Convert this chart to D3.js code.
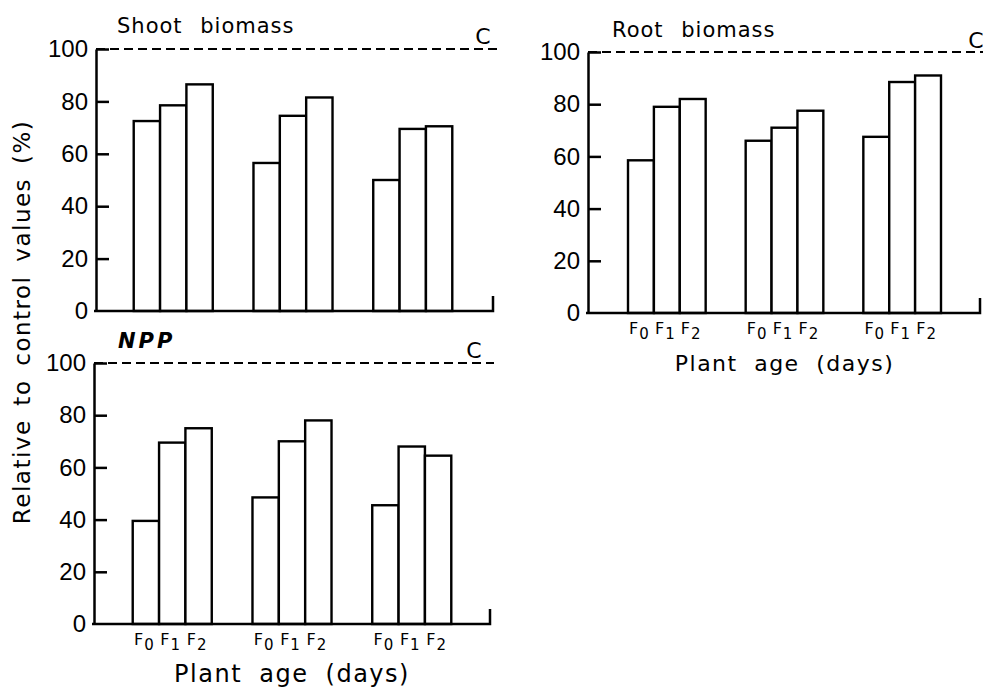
<!DOCTYPE html>
<html>
<head>
<meta charset="utf-8">
<script src="https://cdn.jsdelivr.net/npm/d3@7"></script>
<style>
  body { margin: 0; background: #fff; }
  svg { font-family: "DejaVu Sans", sans-serif; }
  .axis text { font-size: 24px; fill: #000; }
  .axis path, .axis line { stroke: #000; stroke-width: 2.5; }
</style>
</head>
<body>
<div id="chart"></div>
<script>
// data (% of control)
const ages = ["age1", "age2", "age3"];
const treatments = ["F0", "F1", "F2"];
const shootValues = [[72.5, 78.5, 86.5], [56.5, 74.5, 81.5], [50, 69.5, 70.5]];
const rootValues = [[58.5, 79, 82], [66, 71, 77.5], [67.5, 88.5, 91]];
const nppValues = [[39.5, 69.5, 75], [48.5, 70, 78], [45.5, 68, 64.5]];
const yTicks = [0, 20, 40, 60, 80, 100];
const controlValue = 100;

const width = 983, height = 687;

const svg = d3.select("#chart").append("svg")
    .attr("width", width)
    .attr("height", height);

// panel layout
const panels = [
  {title: "Shoot biomass", italic: false, values: shootValues, left: 96, right: 493, dashEnd: 498,
   y0: 311, y100: 49, gx: [93, 493], tx: 117, ty: 33, cx: 483, cy: 44, xLabels: false},
  {title: "Root biomass", italic: false, values: rootValues, left: 588, right: 980, dashEnd: 983,
   y0: 313, y100: 52, gx: [588, 981], tx: 612, ty: 37, cx: 976, cy: 48, xLabels: true, axisFont: 22},
  {title: "NPP", italic: true, values: nppValues, left: 94, right: 490, dashEnd: 494,
   y0: 624, y100: 363, gx: [92, 492], tx: 118, ty: 348, cx: 474, cy: 358, xLabels: true, axisFont: 24}
];

panels.forEach(p => {
  let y = d3.scaleLinear().domain([0, 100]).range([p.y0, p.y100]);
  let xGroup = d3.scaleBand().domain(ages).range(p.gx).paddingInner(0.34).paddingOuter(0.34);
  let xTreat = d3.scaleBand().domain(treatments).range([0, xGroup.bandwidth()]);

  let g = svg.append("g");

  // y axis, ticks pointing inside
  let yAxis = d3.axisLeft(y).tickValues(yTicks).tickSize(-13).tickSizeOuter(0).tickPadding(8);
  let yG = g.append("g").attr("class", "axis")
      .attr("transform", `translate(${p.left},0)`)
      .call(yAxis);
  yG.selectAll(".tick").filter(d => d === 0).select("line").remove();

  // control line
  g.append("line")
      .attr("x1", p.left).attr("x2", p.dashEnd)
      .attr("y1", y(controlValue)).attr("y2", y(controlValue))
      .attr("stroke", "#000").attr("stroke-width", 2)
      .attr("stroke-dasharray", "9,5");
  g.append("text")
      .attr("x", p.cx).attr("y", p.cy)
      .attr("text-anchor", "middle")
      .style("font-size", "22px")
      .text("C");

  // bars
  let bars = [];
  ages.forEach((a, i) => treatments.forEach((t, j) => bars.push({age: a, treat: t, value: p.values[i][j]})));
  g.selectAll("rect.bar")
      .data(bars)
      .enter().append("rect")
      .attr("class", "bar")
      .attr("x", d => xGroup(d.age) + xTreat(d.treat))
      .attr("y", d => y(d.value))
      .attr("width", xTreat.bandwidth())
      .attr("height", d => y(0) - y(d.value))
      .attr("fill", "#fff")
      .attr("stroke", "#000")
      .attr("stroke-width", 2.4);

  // baseline with the little end tick
  g.append("path")
      .attr("d", `M${p.left - 2},${y(0)}H${p.right}V${y(0) - 15}`)
      .attr("fill", "none")
      .attr("stroke", "#000")
      .attr("stroke-width", 2.5);

  // title
  g.append("text")
      .attr("x", p.tx).attr("y", p.ty)
      .style("font-size", "21px")
      .style("font-style", p.italic ? "italic" : "normal")
      .style("font-weight", p.italic ? "bold" : "normal")
      .style("letter-spacing", p.italic ? "3px" : "1px")
      .style("word-spacing", "10px")
      .text(p.title);

  if (p.xLabels) {
    let lab = g.selectAll("text.treat")
        .data(bars)
        .enter().append("text")
        .attr("class", "treat")
        .attr("x", d => xGroup(d.age) + xTreat(d.treat) + xTreat.bandwidth() / 2 - 2)
        .attr("y", y(0) + 21)
        .attr("text-anchor", "middle")
        .style("font-size", "16px");
    lab.append("tspan").text(d => d.treat.slice(0, 1));
    lab.append("tspan")
        .attr("dy", 5)
        .attr("dx", 1)
        .style("font-size", "15px")
        .text(d => d.treat.slice(1));

    g.append("text")
        .attr("x", (p.gx[0] + p.gx[1]) / 2)
        .attr("y", y(0) + 58)
        .attr("text-anchor", "middle")
        .style("font-size", p.axisFont + "px")
        .style("letter-spacing", "1.5px")
        .style("word-spacing", "8px")
        .text("Plant age (days)");
  }
});

// shared y label
svg.append("text")
    .attr("transform", "translate(22,322) rotate(-90)")
    .attr("text-anchor", "middle")
    .attr("dominant-baseline", "central")
    .style("font-size", "23px")
    .style("letter-spacing", "1.5px")
    .style("word-spacing", "5px")
    .text("Relative to control values (%)");
</script>
</body>
</html>
